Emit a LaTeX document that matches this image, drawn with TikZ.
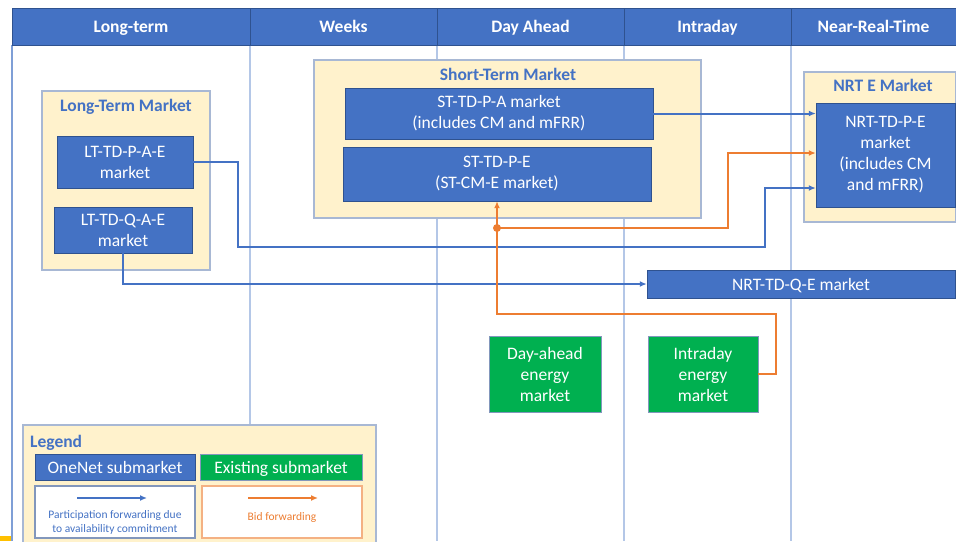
\documentclass[tikz,border=0pt]{standalone}
\usepackage{fontspec}
\setmainfont{Carlito}
\usetikzlibrary{arrows.meta}
\definecolor{oneblue}{HTML}{4472C4}
\definecolor{oneedge}{HTML}{2F528F}
\definecolor{exgreen}{HTML}{00B050}
\definecolor{bidorange}{HTML}{ED7D31}
\definecolor{bidlight}{HTML}{F4B183}
\definecolor{grpfill}{HTML}{FFF2CC}
\definecolor{grpedge}{HTML}{A8B8D4}
\definecolor{guide}{HTML}{B4C7E7}
\definecolor{frame}{HTML}{7F9FD6}
\definecolor{gold}{HTML}{FFC000}
\tikzset{
  hdr/.style={fill=oneblue,draw=oneedge,text=white,inner sep=0pt,text height=12pt,text depth=0pt,font=\fontsize{17.5}{21}\selectfont\bfseries},
  grp/.style={fill=grpfill,draw=grpedge,line width=1.2pt,inner sep=0pt},
  grptitle/.style={text=oneblue,inner sep=0pt,text height=12pt,text depth=0pt,font=\fontsize{17.5}{21}\selectfont\bfseries},
  sub/.style={fill=oneblue,draw=oneedge,text=white,align=center,inner sep=0pt,font=\fontsize{17.5}{21}\selectfont},
  exsub/.style={sub,fill=exgreen,draw=oneedge!60},
  oneline/.style={text height=12pt,text depth=0pt},
  part/.style={draw=oneblue,line width=2pt,-{Latex[length=7pt,width=6pt]}},
  bid/.style={draw=bidorange,line width=2pt,-{Latex[length=7pt,width=6pt]}},
  small/.style={align=center,inner sep=0pt,font=\fontsize{11.5}{14}\selectfont}
}
\begin{document}
\begin{tikzpicture}[x=1pt,y=-1pt]
  \useasboundingbox (0,0) rectangle (956,541);
  % time columns
  \foreach \gx in {250,437,624,791} \draw[guide,line width=1.5pt] (\gx,45) -- (\gx,541);
  \draw[frame,line width=1.5pt] (12,45) -- (12,541);
  \fill[gold] (0,536) rectangle (11,541);
  \node[hdr,minimum width=238pt,minimum height=37pt] (hlt) at (131,26.5) {Long-term};
  \node[hdr,minimum width=187pt,minimum height=37pt] (hwk) at (343.5,26.5) {Weeks};
  \node[hdr,minimum width=187pt,minimum height=37pt] (hda) at (530.5,26.5) {Day Ahead};
  \node[hdr,minimum width=167pt,minimum height=37pt] (hid) at (707.5,26.5) {Intraday};
  \node[hdr,minimum width=165pt,minimum height=37pt] (hnrt) at (873.5,26.5) {Near-Real-Time};
  % market groups
  \node[grp,minimum width=168pt,minimum height=179pt] (ltm) at (126,180.5) {};
  \node[grptitle] (ltmt) at (126,105) {Long-Term Market};
  \node[grp,minimum width=387pt,minimum height=158pt] (stm) at (507.5,139) {};
  \node[grptitle] (stmt) at (508,74) {Short-Term Market};
  \node[grp,minimum width=152pt,minimum height=150pt] (nrtm) at (880,147) {};
  \node[grptitle] (nrtmt) at (883,85) {NRT E Market};
  % submarkets
  \node[sub,minimum width=136pt,minimum height=52pt] (ltpae) at (125,162) {LT-TD-P-A-E\\market};
  \node[sub,minimum width=138pt,minimum height=46pt] (ltqae) at (123,230) {LT-TD-Q-A-E\\market};
  \node[sub,minimum width=308pt,minimum height=51pt] (stpa) at (499,113.5) {ST-TD-P-A market\\(includes CM and mFRR)};
  \node[sub,minimum width=308pt,minimum height=54pt] (stpe) at (497,174) {ST-TD-P-E\\(ST-CM-E market)};
  \node[sub,minimum width=139pt,minimum height=104pt] (nrtpe) at (885.5,155) {NRT-TD-P-E\\market\\(includes CM\\and mFRR)};
  \node[sub,oneline,minimum width=308pt,minimum height=28pt] (nrtqe) at (801,284) {NRT-TD-Q-E market};
  \node[exsub,minimum width=112pt,minimum height=76pt] (dae) at (545,374) {Day-ahead\\energy\\market};
  \node[exsub,minimum width=110pt,minimum height=76pt] (ide) at (703,374) {Intraday\\energy\\market};
  % forwarding
  \coordinate (b1) at (238,247); \coordinate (b2) at (765,188);
  \coordinate (o1) at (776,314); \coordinate (o2) at (728,153); \coordinate (dot) at (497,228);
  \draw[part] (stpa.east) -- (stpa.east -| nrtpe.west);
  \draw[part] (ltpae.east) -| (b1) -| (b2) -- (b2 -| nrtpe.west);
  \draw[part] (ltqae.south) |- (nrtqe.west);
  \draw[bid] (ide.east) -| (o1) -| (stpe.south);
  \draw[bid] (dot) -| (o2) -- (o2 -| nrtpe.west);
  \fill[bidorange] (dot) circle (4pt);
  % legend
  \node[grp,minimum width=353pt,minimum height=120pt] (lg) at (199.5,485) {};
  \node[grptitle,anchor=west] (lgt) at (30,441) {Legend};
  \node[sub,oneline,minimum width=160pt,minimum height=26pt] (lgon) at (115,467) {OneNet submarket};
  \node[exsub,oneline,minimum width=162pt,minimum height=26pt] (lgex) at (281,467) {Existing submarket};
  \node[draw=oneedge!60,fill=white,line width=1.2pt,minimum width=160pt,minimum height=52pt] (lgpart) at (115,512) {};
  \node[draw=bidlight,fill=white,line width=1.2pt,minimum width=160pt,minimum height=52pt] (lgbid) at (282,512) {};
  \coordinate (pa) at (77,498); \coordinate (pb) at (147,498);
  \coordinate (ba) at (248,498); \coordinate (bb) at (318,498);
  \draw[part,line width=1.5pt] (pa) -- (pb); \draw[bid,line width=1.5pt] (ba) -- (bb);
  \node[small,text=oneblue] (lgpt) at (115,522) {Participation forwarding due\\to availability commitment};
  \node[small,text=bidorange] (lgbt) at (282,517) {Bid forwarding};
\end{tikzpicture}
\end{document}
